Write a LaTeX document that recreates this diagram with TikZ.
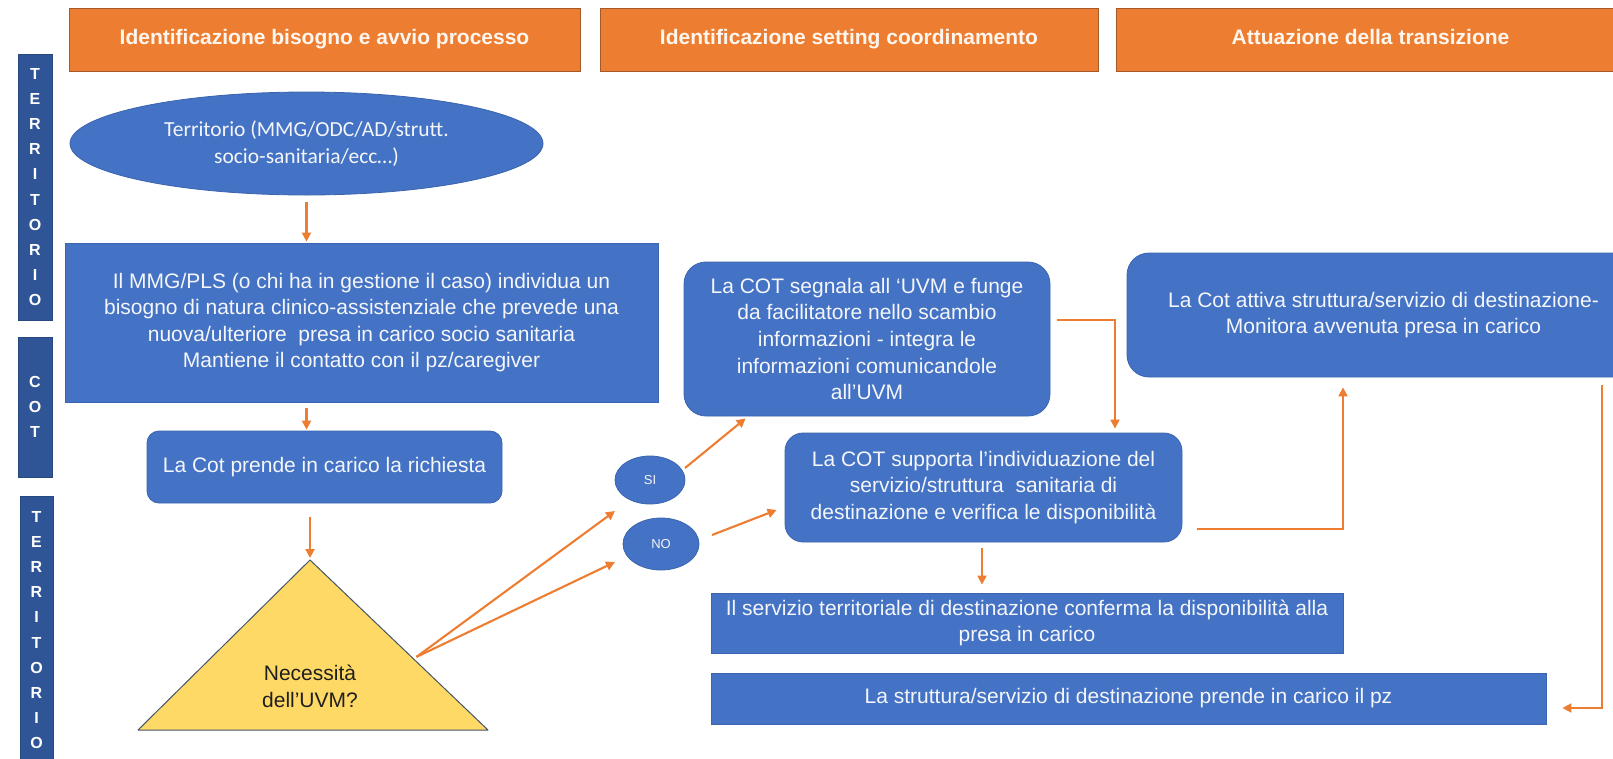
\documentclass[tikz,border=0pt]{standalone}
\usepackage{fontspec}
\setmainfont{Liberation Sans}
\newfontfamily\calibrifont{Carlito}
\usetikzlibrary{shapes.geometric,arrows.meta,calc}
\definecolor{hdrorange}{HTML}{ED7D31}
\definecolor{hdrline}{HTML}{A35A28}
\definecolor{hdrtext}{HTML}{FFF6EE}
\definecolor{boxblue}{HTML}{4472C4}
\definecolor{boxline}{HTML}{3B64AE}
\definecolor{boxtext}{HTML}{F4F6FA}
\definecolor{sideblue}{HTML}{2F5597}
\definecolor{triyellow}{HTML}{FFD966}
\definecolor{triline}{HTML}{44546A}
\definecolor{arrorange}{HTML}{ED7D31}
\begin{document}
\begin{tikzpicture}[x=1pt,y=-1pt,
  hdr/.style={draw=hdrline, line width=1pt, fill=hdrorange, text=hdrtext,
    font=\bfseries\fontsize{21}{25}\selectfont, inner sep=0pt,
    text height=15pt, text depth=4.5pt},
  side/.style={fill=sideblue, draw=sideblue!85!black, line width=0.6pt, text=white,
    font=\bfseries\fontsize{16}{25.2}\selectfont, align=center, inner sep=0pt},
  box/.style={fill=boxblue, draw=boxline, line width=0.8pt, text=boxtext,
    font=\fontsize{21}{26.6}\selectfont, align=center, inner sep=0pt},
  rbox/.style={box, rounded corners=16pt},
  oval/.style={ellipse, fill=boxblue, draw=boxline, line width=0.8pt, text=boxtext,
    inner sep=0pt, align=center},
  arr/.style={draw=arrorange, line width=2.1pt, -{Triangle[length=9pt,width=9pt]}},
]
\useasboundingbox (0,0) rectangle (1613,758);
\begin{scope}
\clip (0,0) rectangle (1613,758);

% phase headers
\node[hdr, minimum width=511, minimum height=63] (h1) at (324.5,39.5) {Identificazione bisogno e avvio processo};
\node[hdr, minimum width=498, minimum height=63] (h2) at (849,39.5) {Identificazione setting coordinamento};
\node[hdr, minimum width=509, minimum height=63] (h3) at (1370.5,39.5) {Attuazione della transizione};

% lane labels
\node[side, minimum width=34, minimum height=266] (s1) at (35,187) {T\\E\\R\\R\\I\\T\\O\\R\\I\\O};
\node[side, minimum width=34, minimum height=140] (s2) at (35,407) {C\\O\\T};
\node[side, minimum width=33, minimum height=268] (s3) at (36.5,630) {T\\E\\R\\R\\I\\T\\O\\R\\I\\O};

% first column
\node[oval, minimum width=473, minimum height=103, font=\calibrifont\fontsize{21.5}{27}\selectfont]
  (terr) at (306.5,143.5) {Territorio (MMG/ODC/AD/strutt.\\socio-sanitaria/ecc…)};
\node[box, minimum width=593, minimum height=159] (mmg) at (361.5,322.5)
  {Il MMG/PLS (o chi ha in gestione il caso) individua un\\
   bisogno di natura clinico-assistenziale che prevede una\\
   nuova/ulteriore\ \ presa in carico socio sanitaria\\
   Mantiene il contatto con il pz/caregiver};
\node[rbox, rounded corners=12pt, minimum width=355, minimum height=72] (prende) at (324.5,467)
  {La Cot prende in carico la richiesta};

% decision triangle
\coordinate (apex) at (310,560);
\coordinate (bl) at (138,730);
\coordinate (br) at (488,730);
\draw[fill=triyellow, draw=triline, line width=1pt, line join=round] (apex) -- (br) -- (bl) -- cycle;
\node[align=center, text=black!88, font=\fontsize{21}{27}\selectfont] (uvm) at (310,686)
  {Necessità\\dell’UVM?};

% answers
\node[oval, minimum width=70, minimum height=48, font=\fontsize{13}{15}\selectfont] (si) at (650,480) {SI};
\node[oval, minimum width=76, minimum height=52, font=\fontsize{13}{15}\selectfont] (no) at (661,544) {NO};

% coordination column
\node[rbox, rounded corners=22pt, minimum width=366, minimum height=154] (segnala) at (867,339)
  {La COT segnala all ‘UVM e funge\\
   da facilitatore nello scambio\\
   informazioni - integra le\\
   informazioni comunicandole\\
   all’UVM};
\node[rbox, rounded corners=18pt, minimum width=397, minimum height=109] (supporta) at (983.5,487.5)
  {La COT supporta l’individuazione del\\
   servizio/struttura\ \ sanitaria di\\
   destinazione e verifica le disponibilità};
\node[box, minimum width=632, minimum height=60] (servizio) at (1027,623)
  {Il servizio territoriale di destinazione conferma la disponibilità alla\\presa in carico};
\node[box, minimum width=835, minimum height=51] (struttura) at (1128.5,698.5)
  {La struttura/servizio di destinazione prende in carico il pz};

% transition column
\node[rbox, rounded corners=22pt, minimum width=513, minimum height=124] (attiva) at (1383.5,315)
  {La Cot attiva struttura/servizio di destinazione-\\Monitora avvenuta presa in carico};

% connectors
\draw[arr, shorten <=7pt, shorten >=1pt] (terr.south) -- (terr.south |- mmg.north);
\draw[arr, shorten <=6pt, shorten >=1pt] (terr.south |- mmg.south) -- (terr.south |- prende.north);
\draw[arr, shorten <=14pt, shorten >=2pt] (apex |- prende.south) -- (apex);

\coordinate (triR) at ($(apex)!0.57!(br)+(5,0)$);
\draw[arr] (triR) -- ($(si)+(-35,31)$);
\draw[arr] (triR) -- ($(no)+(-46,18)$);

\draw[arr] ($(si)+(35,-12)$) -- ($(segnala.south west)+(62,2)$);
\draw[arr] ($(no)+(51,-9)$) -- ($(supporta.west)+(-8,22.5)$);

\draw[arr] ($(segnala.east)+(7,-19)$) -| ($(supporta.north)+(131.5,-4)$);
\draw[arr] ($(supporta.east)+(15,41.5)$) -| ($(attiva.south)+(-40.5,10)$);
\draw[arr] ($(supporta.south)+(-1.5,6)$) -- ($(servizio.north)+(-45,-8)$);
\draw[arr] ($(attiva.south)+(218.5,8)$) |- ($(struttura.east)+(16,9.5)$);
\end{scope}
\end{tikzpicture}
\end{document}
